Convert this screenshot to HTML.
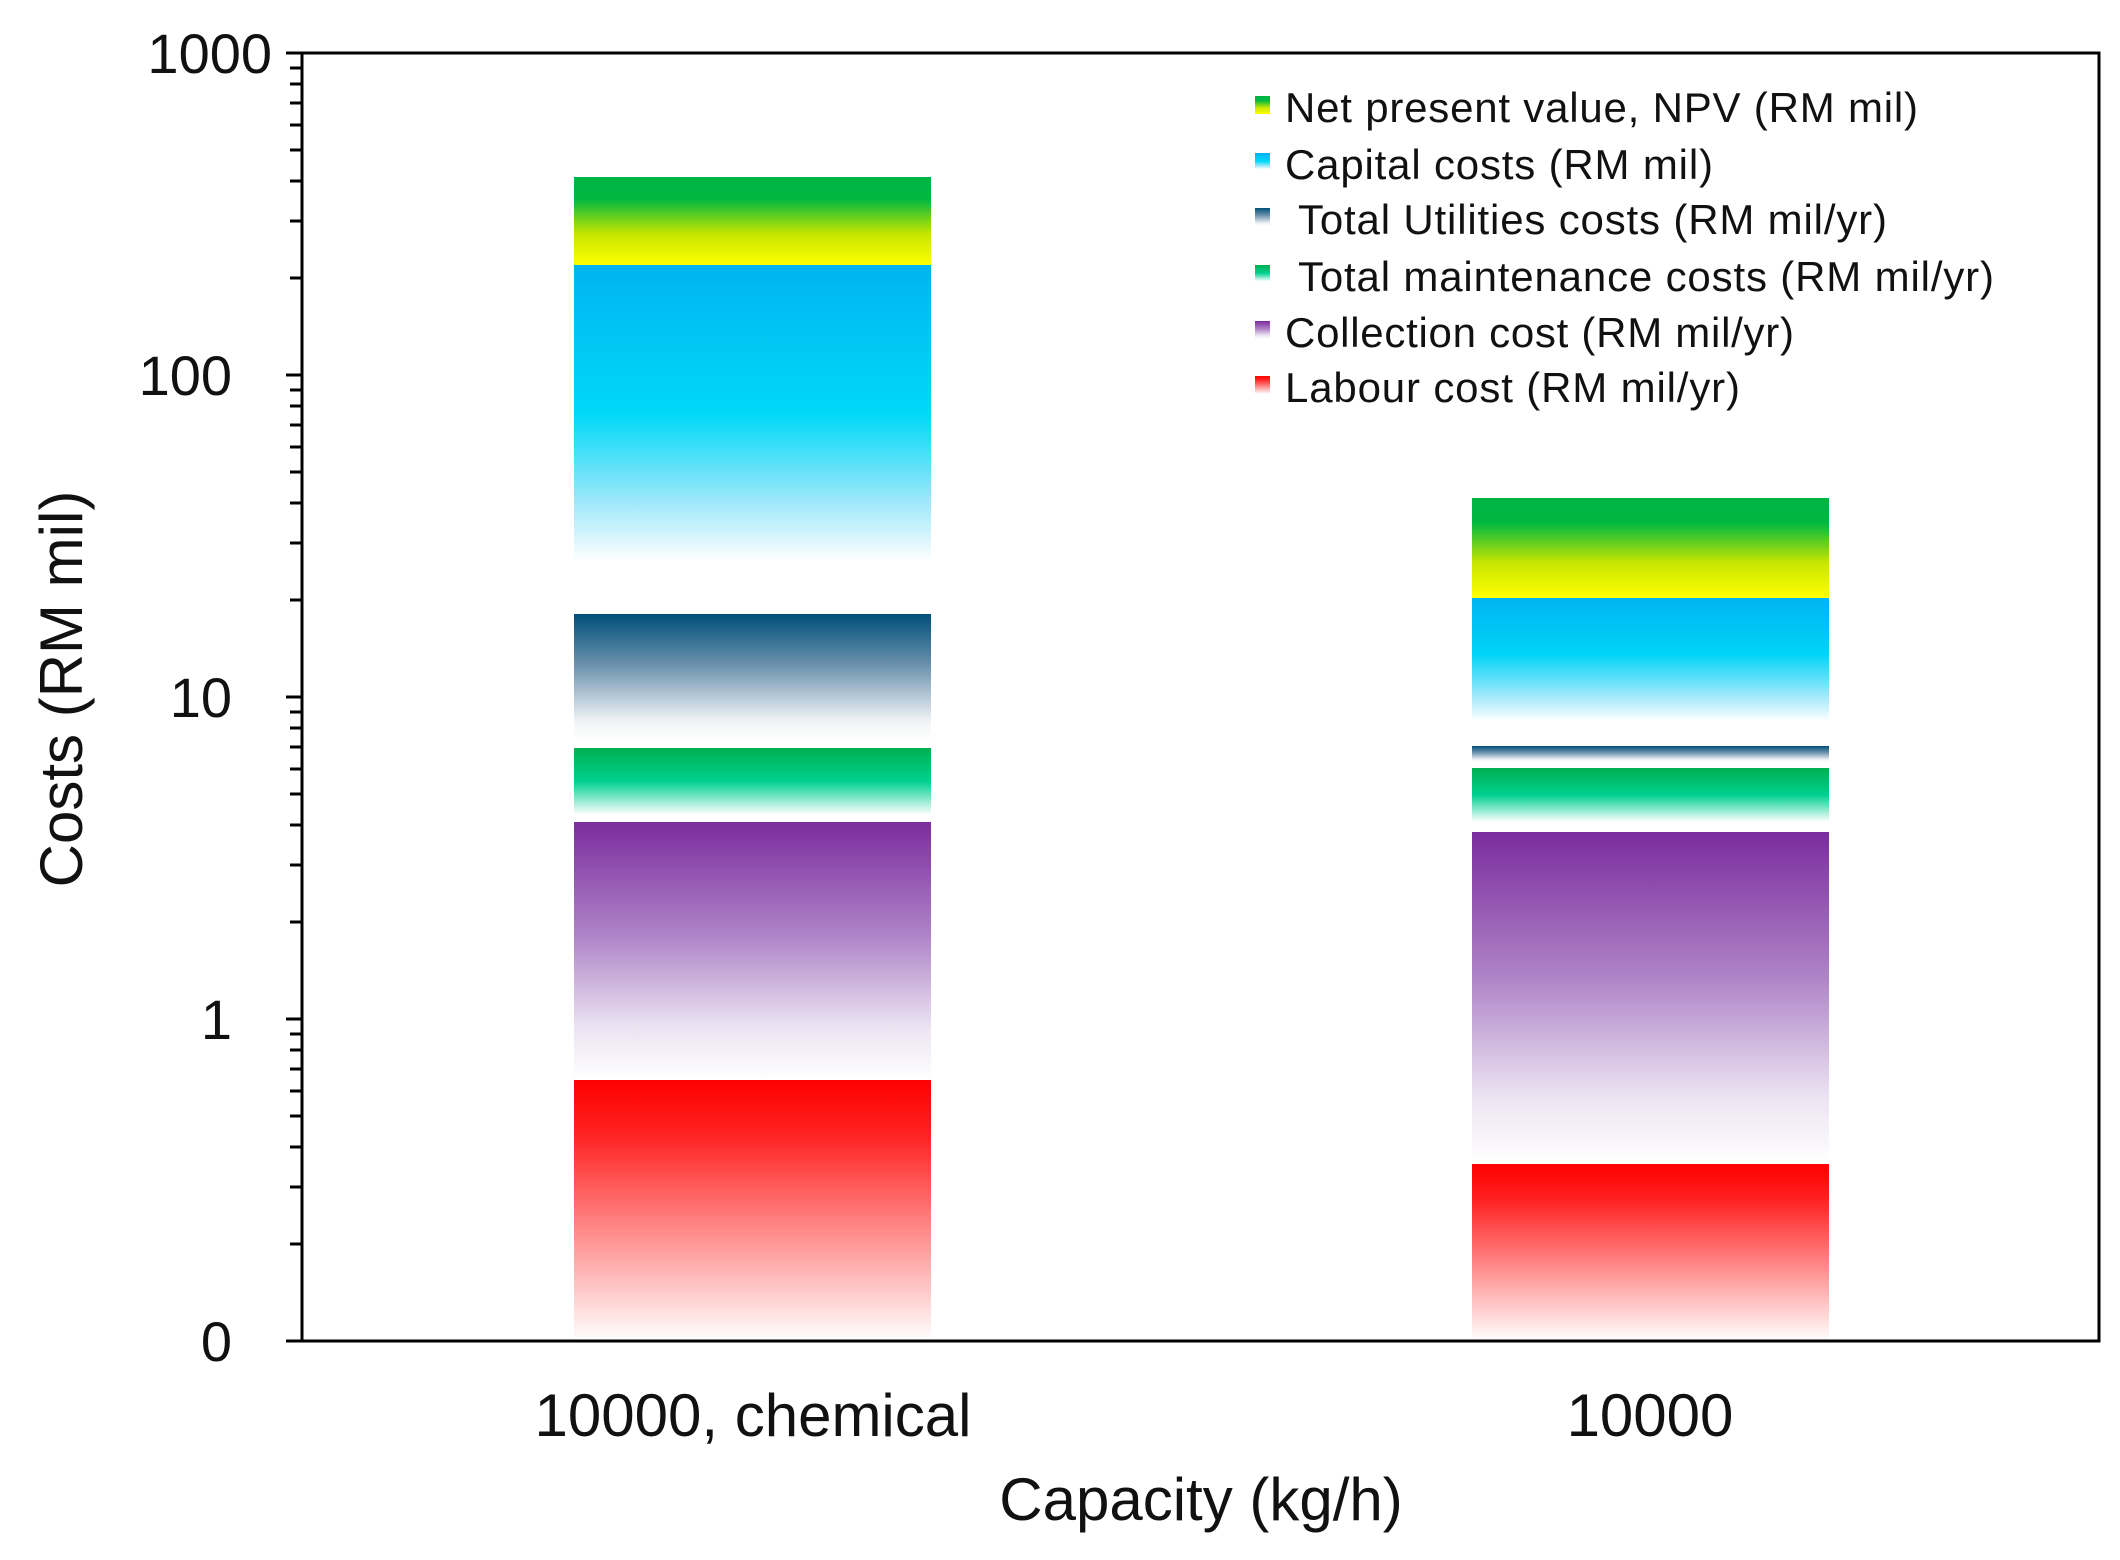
<!DOCTYPE html>
<html><head><meta charset="utf-8"><style>html,body{margin:0;padding:0;background:#fff}svg{display:block}</style></head>
<body>
<svg width="2120" height="1560" viewBox="0 0 2120 1560" xmlns="http://www.w3.org/2000/svg" font-family="Liberation Sans, Arial, sans-serif">
<defs>
<linearGradient id="npv" x1="0" y1="0" x2="0" y2="1"><stop offset="0" stop-color="#00b345"/><stop offset="0.25" stop-color="#00b840"/><stop offset="0.65" stop-color="#c8e600"/><stop offset="1" stop-color="#ffff00"/></linearGradient>
<linearGradient id="cap1" x1="0" y1="0" x2="0" y2="1"><stop offset="0" stop-color="#00b4f0"/><stop offset="0.45" stop-color="#00d8f8"/><stop offset="0.72" stop-color="#a0e8fa"/><stop offset="0.9" stop-color="#ffffff"/><stop offset="1" stop-color="#ffffff"/></linearGradient>
<linearGradient id="cap2" x1="0" y1="0" x2="0" y2="1"><stop offset="0" stop-color="#00b4f0"/><stop offset="0.4" stop-color="#00d4f8"/><stop offset="0.7" stop-color="#a0e8fa"/><stop offset="0.88" stop-color="#ffffff"/><stop offset="1" stop-color="#ffffff"/></linearGradient>
<linearGradient id="nav" x1="0" y1="0" x2="0" y2="1"><stop offset="0" stop-color="#004f78"/><stop offset="0.4" stop-color="#6a90ac"/><stop offset="0.85" stop-color="#f0f3f6"/><stop offset="1" stop-color="#ffffff"/></linearGradient>
<linearGradient id="grn" x1="0" y1="0" x2="0" y2="1"><stop offset="0" stop-color="#00b050"/><stop offset="0.45" stop-color="#00d090"/><stop offset="0.9" stop-color="#ffffff"/><stop offset="1" stop-color="#ffffff"/></linearGradient>
<linearGradient id="pur" x1="0" y1="0" x2="0" y2="1"><stop offset="0" stop-color="#7b2c9e"/><stop offset="0.45" stop-color="#b086c8"/><stop offset="0.8" stop-color="#ece4f2"/><stop offset="1" stop-color="#ffffff"/></linearGradient>
<linearGradient id="red" x1="0" y1="0" x2="0" y2="1"><stop offset="0" stop-color="#ff0000"/><stop offset="0.2" stop-color="#ff2020"/><stop offset="0.6" stop-color="#ff9090"/><stop offset="1" stop-color="#ffffff"/></linearGradient>
</defs>

<rect x="574" y="177" width="357" height="88" fill="url(#npv)"/>
<rect x="574" y="265" width="357" height="330" fill="url(#cap1)"/>
<rect x="574" y="614" width="357" height="126" fill="url(#nav)"/>
<rect x="574" y="748" width="357" height="74" fill="url(#grn)"/>
<rect x="574" y="822" width="357" height="258" fill="url(#pur)"/>
<rect x="574" y="1080" width="357" height="261" fill="url(#red)"/>

<rect x="1472" y="498" width="357" height="100" fill="url(#npv)"/>
<rect x="1472" y="598" width="357" height="140" fill="url(#cap2)"/>
<rect x="1472" y="746" width="357" height="16" fill="url(#nav)"/>
<rect x="1472" y="768" width="357" height="60" fill="url(#grn)"/>
<rect x="1472" y="832" width="357" height="332" fill="url(#pur)"/>
<rect x="1472" y="1164" width="357" height="177" fill="url(#red)"/>

<rect x="302" y="53" width="1797" height="1288" fill="none" stroke="#000" stroke-width="3"/>
<g font-size="56" text-anchor="end" fill="#111">
<text x="272" y="73">1000</text>
<text x="232" y="395">100</text>
<text x="232" y="717">10</text>
<text x="232" y="1039">1</text>
<text x="232" y="1361">0</text>
</g>
<text transform="translate(82,689) rotate(-90)" font-size="60" text-anchor="middle" fill="#111">Costs (RM mil)</text>
<text x="753" y="1436" font-size="60" text-anchor="middle" fill="#111">10000, chemical</text>
<text x="1650" y="1436" font-size="60" text-anchor="middle" fill="#111">10000</text>
<text x="1201" y="1520" font-size="60" text-anchor="middle" fill="#111">Capacity (kg/h)</text>

<rect x="1255" y="96" width="15" height="18" fill="url(#npv)"/>
<rect x="1255" y="153" width="15" height="18" fill="url(#cap1)"/>
<rect x="1255" y="208" width="15" height="18" fill="url(#nav)"/>
<rect x="1255" y="265" width="15" height="18" fill="url(#grn)"/>
<rect x="1255" y="321" width="15" height="18" fill="url(#pur)"/>
<rect x="1255" y="376" width="15" height="18" fill="url(#red)"/>
<g font-size="42" fill="#111">
<text x="1285" y="122" textLength="633">Net present value, NPV (RM mil)</text>
<text x="1285" y="179" textLength="428">Capital costs (RM mil)</text>
<text x="1298" y="234" textLength="589">Total Utilities costs (RM mil/yr)</text>
<text x="1298" y="291" textLength="696">Total maintenance costs (RM mil/yr)</text>
<text x="1285" y="347" textLength="509">Collection cost (RM mil/yr)</text>
<text x="1285" y="402" textLength="455">Labour cost (RM mil/yr)</text>
</g>
<g stroke="#000" stroke-width="3">
<line x1="286" y1="53" x2="302" y2="53"/><line x1="286" y1="375" x2="302" y2="375"/><line x1="286" y1="697" x2="302" y2="697"/><line x1="286" y1="1019" x2="302" y2="1019"/><line x1="286" y1="1341" x2="302" y2="1341"/>
<line x1="290" y1="1244" x2="302" y2="1244"/><line x1="290" y1="1187" x2="302" y2="1187"/><line x1="290" y1="1147" x2="302" y2="1147"/><line x1="290" y1="1116" x2="302" y2="1116"/><line x1="290" y1="1091" x2="302" y2="1091"/><line x1="290" y1="1069" x2="302" y2="1069"/><line x1="290" y1="1050" x2="302" y2="1050"/><line x1="290" y1="1034" x2="302" y2="1034"/>
<line x1="290" y1="922" x2="302" y2="922"/><line x1="290" y1="865" x2="302" y2="865"/><line x1="290" y1="825" x2="302" y2="825"/><line x1="290" y1="794" x2="302" y2="794"/><line x1="290" y1="769" x2="302" y2="769"/><line x1="290" y1="747" x2="302" y2="747"/><line x1="290" y1="728" x2="302" y2="728"/><line x1="290" y1="712" x2="302" y2="712"/>
<line x1="290" y1="600" x2="302" y2="600"/><line x1="290" y1="543" x2="302" y2="543"/><line x1="290" y1="503" x2="302" y2="503"/><line x1="290" y1="472" x2="302" y2="472"/><line x1="290" y1="447" x2="302" y2="447"/><line x1="290" y1="425" x2="302" y2="425"/><line x1="290" y1="406" x2="302" y2="406"/><line x1="290" y1="390" x2="302" y2="390"/>
<line x1="290" y1="278" x2="302" y2="278"/><line x1="290" y1="221" x2="302" y2="221"/><line x1="290" y1="181" x2="302" y2="181"/><line x1="290" y1="150" x2="302" y2="150"/><line x1="290" y1="125" x2="302" y2="125"/><line x1="290" y1="103" x2="302" y2="103"/><line x1="290" y1="84" x2="302" y2="84"/><line x1="290" y1="68" x2="302" y2="68"/>
</g>
</svg>
</body></html>
